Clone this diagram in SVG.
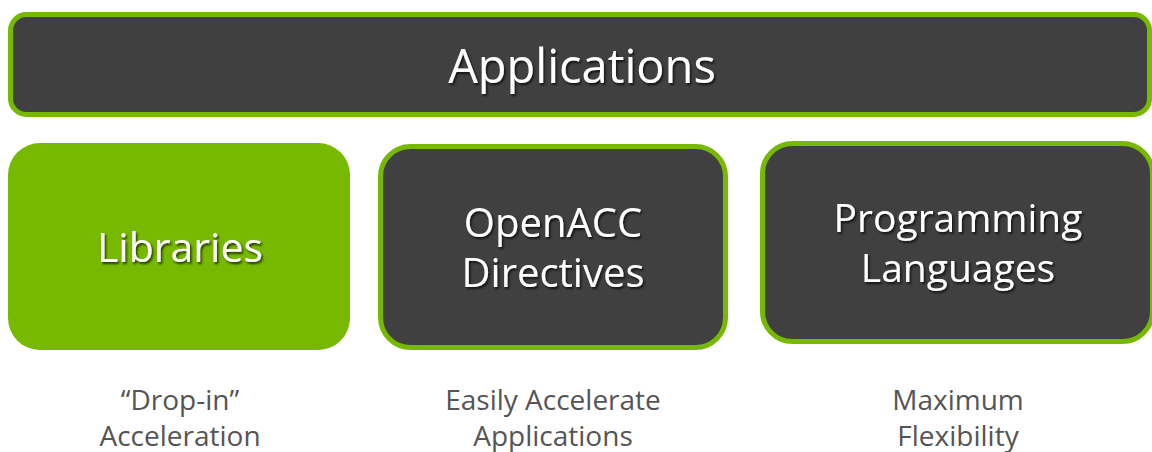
<svg xmlns="http://www.w3.org/2000/svg" width="1152" height="452" viewBox="0 0 1152 452">
<defs>
<filter id="sh" x="-10%" y="-10%" width="120%" height="130%">
<feDropShadow dx="1.5" dy="2" stdDeviation="1" flood-color="#000" flood-opacity="0.7"/>
</filter>
</defs>
<style>
.dark{fill:#404040;stroke:#76b900;stroke-width:5}
.green{fill:#76b900}
.t{font-family:"Open Sans","DejaVu Sans",sans-serif;fill:#ffffff;text-anchor:middle;filter:url(#sh)}
.s{font-family:"Open Sans","DejaVu Sans",sans-serif;fill:#555555;text-anchor:middle;font-size:28px}
</style>
<rect width="1152" height="452" fill="#ffffff"/>
<g id="applications">
<rect class="dark" x="10.5" y="14.5" width="1139" height="100" rx="16"/>
<text class="t" x="582" y="83" font-size="47">Applications</text>
</g>
<g id="libraries">
<rect class="green" x="8" y="143" width="342" height="207" rx="32"/>
<text class="t" x="180" y="262" font-size="41">Libraries</text>
<text class="s" x="180" y="410" font-size="29">“Drop-in”</text>
<text class="s" x="180" y="446">Acceleration</text>
</g>
<g id="openacc">
<rect class="dark" x="380.5" y="146.5" width="345" height="201" rx="30"/>
<text class="t" x="553" y="237" font-size="40">OpenACC</text>
<text class="t" x="553" y="287" font-size="40">Directives</text>
<text class="s" x="553" y="410">Easily Accelerate</text>
<text class="s" x="553" y="446">Applications</text>
</g>
<g id="programming">
<rect class="dark" x="762.5" y="143.5" width="390" height="198" rx="30"/>
<text class="t" x="958" y="232" font-size="39">Programming</text>
<text class="t" x="958" y="282" font-size="39">Languages</text>
<text class="s" x="958" y="410">Maximum</text>
<text class="s" x="958" y="446">Flexibility</text>
</g>
<g id="connectors"/>
</svg>
